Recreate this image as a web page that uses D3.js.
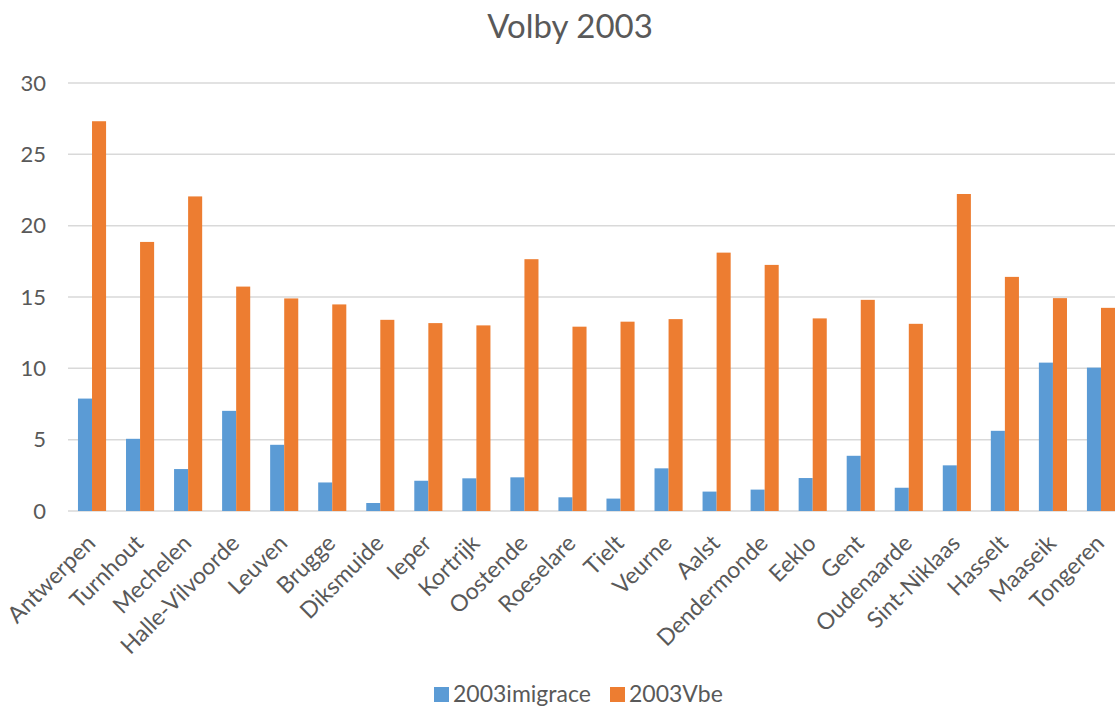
<!DOCTYPE html>
<html>
<head>
<meta charset="utf-8">
<script src="https://cdn.jsdelivr.net/npm/d3@7"></script>
<style>
  body { margin: 0; background: #fff; }
  svg { display: block; font-family: Lato, 'Open Sans', sans-serif; }
</style>
</head>
<body>
<div id="chart"></div>
<script>
const categories = ['Antwerpen', 'Turnhout', 'Mechelen', 'Halle-Vilvoorde', 'Leuven', 'Brugge', 'Diksmuide', 'Ieper', 'Kortrijk', 'Oostende', 'Roeselare', 'Tielt', 'Veurne', 'Aalst', 'Dendermonde', 'Eeklo', 'Gent', 'Oudenaarde', 'Sint-Niklaas', 'Hasselt', 'Maaseik', 'Tongeren']
const imigrace = [7.88, 5.06, 2.94, 7.02, 4.64, 2.0, 0.56, 2.12, 2.29, 2.36, 0.96, 0.87, 2.99, 1.36, 1.5, 2.31, 3.87, 1.63, 3.2, 5.62, 10.4, 10.05]
const vbe = [27.32, 18.86, 22.05, 15.73, 14.9, 14.48, 13.4, 13.17, 13.01, 17.65, 12.92, 13.27, 13.45, 18.11, 17.25, 13.5, 14.8, 13.12, 22.22, 16.41, 14.92, 14.24]
const seriesNames = ['2003imigrace', '2003Vbe']
const yTicks = [0, 5, 10, 15, 20, 25, 30]

const width = 1115
const height = 706
const colors = ['#5b9bd5', '#ed7d31']
const margin = { left: 68, right: -10, top: 83, bottom: 195 }

const svg = d3.select('#chart')
  .append('svg')
  .attr('width', width)
  .attr('height', height)

const x = d3.scaleBand()
  .domain(categories)
  .range([margin.left, width - margin.right])
  .paddingInner(0.415)
  .paddingOuter(0.2075)

const x1 = d3.scaleBand()
  .domain(seriesNames)
  .range([0, x.bandwidth()])

const y = d3.scaleLinear()
  .domain([0, 30])
  .range([height - margin.bottom, margin.top])

// title
svg.append('text')
  .attr('x', 570)
  .attr('y', 38)
  .attr('text-anchor', 'middle')
  .attr('fill', '#595959')
  .style('font-size', '33px')
  .text('Volby 2003')

// gridlines
svg.append('g')
  .selectAll('line')
  .data(yTicks)
  .enter()
  .append('line')
  .attr('x1', margin.left)
  .attr('x2', width)
  .attr('y1', d => y(d))
  .attr('y2', d => y(d))
  .attr('stroke', '#d9d9d9')
  .attr('stroke-width', 1.5)

// y labels
svg.append('g')
  .selectAll('text')
  .data(yTicks)
  .enter()
  .append('text')
  .attr('x', 46)
  .attr('y', d => y(d))
  .attr('dy', '0.35em')
  .attr('text-anchor', 'end')
  .attr('fill', '#595959')
  .style('font-size', '22px')
  .text(d => d)

// bars
const rows = categories.map((c, i) => ({ cat: c, values: [imigrace[i], vbe[i]] }))
const groups = svg.append('g')
  .selectAll('g')
  .data(rows)
  .enter()
  .append('g')
  .attr('transform', d => `translate(${x(d.cat)},0)`)

groups.selectAll('rect')
  .data(d => d.values.map((v, j) => ({ key: seriesNames[j], value: v, j })))
  .enter()
  .append('rect')
  .attr('x', d => x1(d.key))
  .attr('width', x1.bandwidth())
  .attr('y', d => y(d.value))
  .attr('height', d => y(0) - y(d.value))
  .attr('fill', d => colors[d.j])

// x labels
svg.append('g')
  .selectAll('text')
  .data(categories)
  .enter()
  .append('text')
  .attr('transform', d => `translate(${x(d) + x.bandwidth() / 2 - 1},${y(0) + 28}) rotate(-45)`)
  .attr('text-anchor', 'end')
  .attr('dy', '0.35em')
  .attr('fill', '#595959')
  .style('font-size', '23px')
  .text(d => d)

// legend
const legendItems = [{ name: seriesNames[0], x: 434 }, { name: seriesNames[1], x: 610 }]
const legend = svg.append('g')
  .selectAll('g')
  .data(legendItems)
  .enter()
  .append('g')
  .attr('transform', d => `translate(${d.x},${687})`)

legend.append('rect')
  .attr('width', 15)
  .attr('height', 15)
  .attr('fill', (d, i) => colors[i])

legend.append('text')
  .attr('x', 19)
  .attr('y', 15)
  .attr('fill', '#595959')
  .style('font-size', '23px')
  .text(d => d.name)
</script>
</body>
</html>
